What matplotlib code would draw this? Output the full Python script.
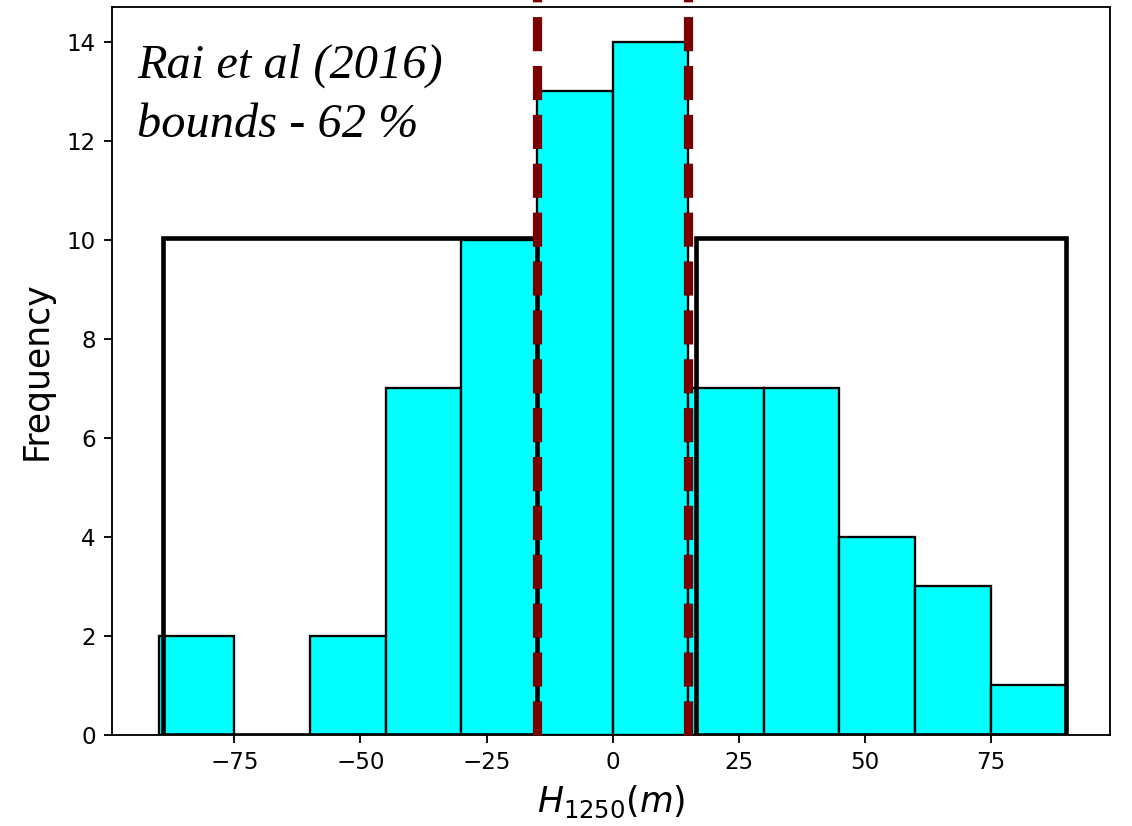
import matplotlib
matplotlib.use("Agg")
import matplotlib.pyplot as plt

# Data
bin_edges = [-90, -75, -60, -45, -30, -15, 0, 15, 30, 45, 60, 75, 90]
counts = [2, 0, 2, 7, 10, 13, 14, 7, 7, 4, 3, 1]
bound_lines = [-15, 15]
left_box = [-89.2, -15.0]
right_box = [16.6, 90.0]
box_height = 10.03
annot_text = "Rai et al (2016)\nbounds - 62 %"

DPI = 166
fig = plt.figure(figsize=(1132 / DPI, 826 / DPI), dpi=DPI)
ax = fig.add_axes([112 / 1132, (826 - 735) / 826, (1110 - 112) / 1132, (735 - 7) / 826])

lefts = bin_edges[:-1]
widths = [b - a for a, b in zip(bin_edges[:-1], bin_edges[1:])]
ax.bar(lefts, counts, width=widths, align="edge", color="#00FFFF",
       edgecolor="black", linewidth=1, zorder=2)

for x0, x1 in (left_box, right_box):
    ax.plot([x0, x0, x1, x1, x0], [0, box_height, box_height, 0, 0],
            color="black", linewidth=2, zorder=3, solid_joinstyle="miter")

for xb in bound_lines:
    ax.plot([xb, xb], [0, 16], color="#7a0000", linewidth=4, linestyle="--",
            zorder=4, clip_on=False)

ax.set_xlim(-99.3, 98.7)
ax.set_ylim(0, 14.7)
ax.set_xticks([-75, -50, -25, 0, 25, 50, 75])
ax.set_yticks([0, 2, 4, 6, 8, 10, 12, 14])
ax.tick_params(labelsize=10)
ax.set_xlabel(r"$H_{1250}(m)$", fontsize=15)
ax.set_ylabel("Frequency", fontsize=15, labelpad=5.5)

ax.text(-94.3, 12.08, annot_text, fontsize=21, family="Liberation Serif",
        style="italic", va="baseline", ha="left", linespacing=1.42, zorder=5)

fig.savefig("out.png", dpi=DPI)
